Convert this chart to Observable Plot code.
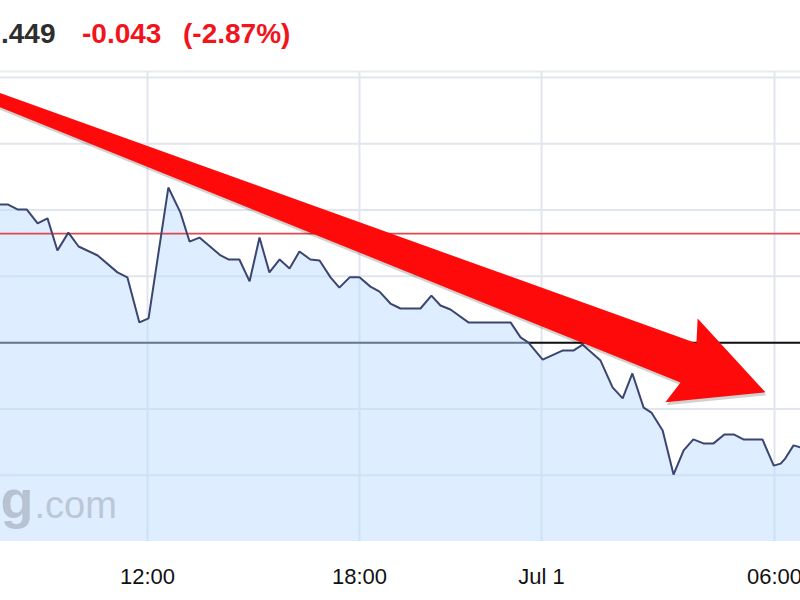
<!DOCTYPE html>
<html>
<head>
<meta charset="utf-8">
<script src="https://cdn.jsdelivr.net/npm/d3@7"></script>
<script src="https://cdn.jsdelivr.net/npm/@observablehq/plot@0.6"></script>
<style>
  html, body { margin: 0; padding: 0; background: #fff; }
  #wrap { position: relative; width: 800px; height: 600px; overflow: hidden; background: #fff; }
  #wrap svg { position: absolute; left: 0; top: 0; }
  .hdr { position: absolute; top: 18px; font: bold 28px "Liberation Sans", Arial, sans-serif; white-space: nowrap; line-height: normal; }
</style>
</head>
<body>
<div id="wrap">
  <span class="hdr" style="left:1px;color:#2e2e2e">.449</span>
  <span class="hdr" style="left:82px;color:#f2131b">-0.043</span>
  <span class="hdr" style="left:183px;color:#f2131b">(-2.87%)</span>
</div>
<script>
// Time in hours since Jun 30 00:00 (24 = Jul 1 00:00)
const hours = [7.84, 8.04, 8.32, 8.58, 8.89, 9.17, 9.45, 9.76, 10.05, 10.59, 11.15, 11.43, 11.77,
  12.03, 12.59, 12.93, 13.19, 13.47, 14.07, 14.29, 14.60, 14.89, 15.17, 15.45, 15.74, 16.02, 16.30,
  16.61, 16.87, 17.18, 17.43, 17.72, 18.00, 18.36, 18.66, 19.02, 19.35, 20.01, 20.37, 20.67, 21.00,
  21.59, 22.98, 23.31, 23.57, 24.03, 24.54, 24.82, 25.06, 25.52, 25.83, 26.09, 26.34, 26.63, 26.83,
  27.12, 27.40, 27.66, 27.91, 28.17, 28.43, 28.71, 28.95, 29.20, 29.69, 29.98, 30.16, 30.28, 30.49, 30.67];
const prices = [1.5017, 1.5017, 1.5002, 1.5002, 1.4960, 1.4975, 1.4878, 1.4932, 1.4890, 1.4863, 1.4812, 1.4797, 1.4661,
  1.4673, 1.5068, 1.4993, 1.4905, 1.4917, 1.4863, 1.4851, 1.4851, 1.4785, 1.4917, 1.4812, 1.4851, 1.4824, 1.4875,
  1.4851, 1.4848, 1.4797, 1.4766, 1.4797, 1.4797, 1.4769, 1.4754, 1.4718, 1.4703, 1.4703, 1.4742, 1.4712, 1.4700,
  1.4661, 1.4661, 1.4616, 1.4600, 1.4549, 1.4576, 1.4576, 1.4594, 1.4546, 1.4465, 1.4432, 1.4507, 1.4404, 1.4389,
  1.4335, 1.4202, 1.4275, 1.4308, 1.4296, 1.4296, 1.4323, 1.4323, 1.4308, 1.4308, 1.4229, 1.4235, 1.4251, 1.4290, 1.4284];

const prevClose = 1.4929;      // red reference line
const blackLevel = 1.46;       // black reference line
const gridPrices = [1.42, 1.44, 1.46, 1.48, 1.50, 1.52, 1.54];
const frameTop = [1.5418];
const tickHours = [12, 18, 24, 30];
const tickLabels = ["12:00", "18:00", "Jul 1", "06:00"];

// Annotation arrow (outline in data coordinates)
const arrowHours  = [7.56, 27.99, 28.02, 29.77, 27.19, 27.58, 7.56];
const arrowPrices = [1.5363, 1.4598, 1.4673, 1.4450, 1.4420, 1.4480, 1.5322];

const watermarkBold = "g";
const watermarkRest = ".com";

const data = hours.map((h, i) => ({h, p: prices[i]}));
const arrow = arrowHours.map((h, i) => ({h, p: arrowPrices[i]}));
const labelOf = new Map(tickHours.map((t, i) => [t, tickLabels[i]]));

const chart = Plot.plot({
  width: 800,
  height: 600,
  marginLeft: 0,
  marginRight: 0,
  marginTop: 77,
  marginBottom: 59,
  style: {background: "transparent", fontFamily: "'Liberation Sans', Arial, sans-serif"},
  x: {type: "linear", domain: [7.839, 12, 18, 24, 30, 30.67], range: [0, 147, 359, 541, 774, 800], axis: null},
  y: {domain: [1.40, 1.54], range: [541, 77], axis: null},
  marks: [
    Plot.ruleY(gridPrices, {stroke: "#e1e6ee", strokeWidth: 2}),
    Plot.ruleY(frameTop, {stroke: "#e8ecf2", strokeWidth: 2}),
    Plot.ruleX(tickHours, {y1: 1.40, y2: 1.5418, stroke: "#e1e6ee", strokeWidth: 2}),
    Plot.ruleY([blackLevel], {stroke: "#111", strokeWidth: 2}),
    Plot.areaY(data, {x: "h", y1: () => 1.40, y2: "p", fill: "#bddcff", fillOpacity: 0.5}),
    Plot.ruleY([prevClose], {stroke: "#e0484b", strokeWidth: 1.6}),
    Plot.text([watermarkBold], {text: d => d, frameAnchor: "bottom-left", textAnchor: "end", dx: 33, dy: -24, fontSize: 54, fontWeight: "bold", fill: "#b7c3d3"}),
    Plot.text([watermarkRest], {text: d => d, frameAnchor: "bottom-left", textAnchor: "start", dx: 34, dy: -24, fontSize: 38, fill: "#bcc7d6"}),
    Plot.line(data, {x: "h", y: "p", stroke: "#3a466f", strokeWidth: 2, strokeLinejoin: "miter"}),
    Plot.line(arrow, {x: "h", y: "p", fill: "#000", fillOpacity: 0.18, stroke: "none", dx: 1, dy: 3}),
    Plot.line(arrow, {x: "h", y: "p", fill: "#fe0a0a", stroke: "none"}),
    Plot.axisX({ticks: tickHours, tickFormat: d => labelOf.get(d), tickSize: 0, tickPadding: 27, fontSize: 22, fill: "#111", anchor: "bottom", label: null})
  ]
});
document.getElementById("wrap").prepend(chart);
</script>
</body>
</html>
